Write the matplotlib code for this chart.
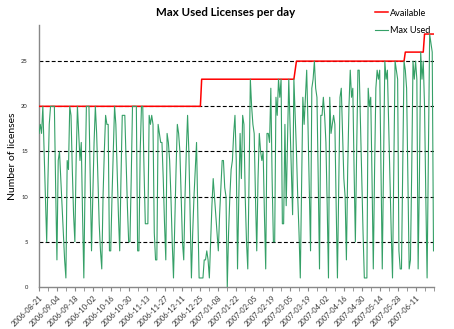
import matplotlib
matplotlib.use("Agg")
import matplotlib.pyplot as plt
import numpy as np
import pandas as pd

plt.rcParams['font.family'] = ['Lato', 'DejaVu Sans']

start_date = "2006-08-21"
last_label_date = "2007-06-11"

# Daily peak license usage
max_used = [
    17, 18, 17, 20, 15, 10, 5,
    12, 18, 20, 20, 20, 20, 11,
    3, 14, 15, 12, 9, 6, 3,
    1, 14, 13, 20, 19, 13, 8,
    5, 14, 20, 17, 14, 16, 8,
    1, 12, 20, 20, 20, 12, 4,
    10, 16, 20, 17, 12, 7, 4,
    2, 10, 15, 19, 18, 18, 4,
    4, 10, 15, 20, 18, 13, 8,
    4, 12, 19, 19, 19, 14, 9,
    5, 5, 12, 20, 20, 20, 20,
    4, 4, 15, 20, 20, 13, 7,
    7, 7, 19, 18, 19, 18, 6,
    3, 3, 18, 17, 16, 16, 12,
    7, 3, 17, 16, 14, 10, 5,
    1, 7, 13, 18, 17, 15, 10,
    5, 3, 10, 15, 19, 15, 8,
    1, 6, 10, 13, 16, 8, 1,
    1, 1, 1, 3, 3, 4, 3,
    1, 5, 9, 12, 10, 8, 6,
    4, 8, 11, 14, 14, 11, 10,
    0, 6, 10, 13, 14, 17, 19,
    14, 2, 10, 17, 12, 19, 18,
    10, 5, 2, 12, 23, 20, 18,
    17, 10, 4, 12, 17, 15, 14,
    15, 8, 2, 17, 17, 16, 22,
    12, 5, 5, 21, 19, 23, 21,
    23, 7, 7, 18, 9, 16, 23,
    18, 13, 8, 23, 19, 15, 10,
    6, 1, 11, 21, 18, 21, 24,
    18, 11, 4, 22, 23, 25, 22,
    21, 12, 2, 19, 19, 21, 19,
    16, 9, 1, 21, 17, 18, 19,
    18, 9, 1, 11, 21, 22, 17,
    12, 10, 3, 13, 20, 24, 21,
    22, 13, 5, 15, 24, 24, 18,
    12, 6, 1, 1, 1, 22, 20,
    21, 12, 2, 13, 22, 24, 23,
    24, 13, 2, 14, 25, 23, 24,
    18, 12, 6, 1, 13, 25, 24,
    23, 4, 2, 2, 14, 25, 24,
    22, 12, 2, 3, 13, 25, 23,
    25, 23, 2, 12, 26, 23, 25,
    20, 10, 1, 14, 28, 27, 26,
    4,
]

# Licenses available: (first day index, count) for each level
available_steps = [(0, 20), (127, 23), (200, 24), (201, 25), (286, 26), (301, 28)]

dates = pd.date_range(start_date, periods=len(max_used), freq="D")
available = np.zeros(len(max_used))
for first, count in available_steps:
    available[first:] = count

fig = plt.figure(figsize=(4.54, 3.29), dpi=100)
ax = fig.add_axes([39 / 454, 1 - 287 / 329, (433.5 - 39) / 454, (287 - 25) / 329])

ax.plot(dates, available, color="#ff0000", lw=1.1, label="Available", zorder=3)
ax.plot(dates, max_used, color="#35a067", lw=0.8, label="Max Used", zorder=4)

for level in [5, 10, 15, 20, 25]:
    ax.axhline(level, color="black", lw=0.8, ls=(0, (3.5, 2)), zorder=2)

ax.set_ylim(0, 29)
ax.set_xlim(dates[0], dates[-1])
ax.set_yticks([0, 5, 10, 15, 20, 25])
ax.tick_params(axis="y", labelsize=4.2, length=0, pad=8, colors="#222222")

tick_dates = pd.date_range(start_date, last_label_date, freq="14D")
ax.set_xticks(tick_dates)
ax.set_xticklabels([d.strftime("%Y-%m-%d") for d in tick_dates],
                   rotation=45, ha="right", rotation_mode="anchor",
                   fontsize=5.4, color="#333333")
ax.set_xticks(pd.date_range(start_date, dates[-1], freq="7D"), minor=True)
ax.tick_params(axis="x", which="both", length=3, color="#888888", pad=2)

for side in ["top", "right"]:
    ax.spines[side].set_visible(False)
for side in ["left", "bottom"]:
    ax.spines[side].set_color("#888888")
    ax.spines[side].set_linewidth(1.0)

ax.set_ylabel("Number of licenses", fontsize=7.5, labelpad=3)
fig.text(226 / 454, 1 - 12 / 329, "Max Used Licenses per day", ha="center",
         va="center", fontsize=8.3, fontweight="bold")

fig.legend(loc="upper left", bbox_to_anchor=(371 / 454, 1 - 5 / 329),
           frameon=False, fontsize=6.6, handlelength=1.4, handletextpad=0.25,
           labelspacing=0.95, borderaxespad=0)

fig.savefig("out.png", dpi=100)
